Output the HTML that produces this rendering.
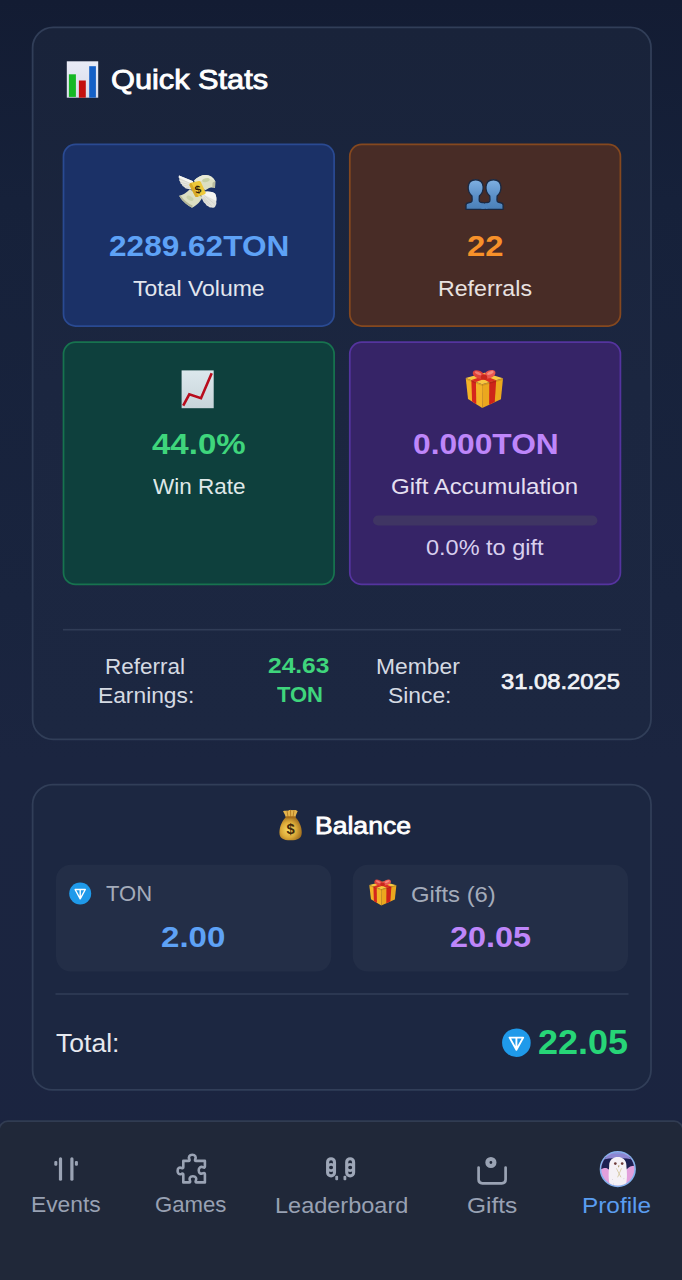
<!DOCTYPE html>
<html>
<head>
<meta charset="utf-8">
<style>
*{box-sizing:border-box;margin:0;padding:0}
html,body{width:682px;height:1280px;overflow:hidden}
body{font-family:"Liberation Sans",sans-serif;font-size:16px;line-height:1;background:linear-gradient(180deg,#131c33 0px,#16213a 200px,#19243e 600px,#1b2540 760px,#1b2440 1280px);position:relative;color:#fff}
.abs{position:absolute}
.card{position:absolute;border:1.5px solid #2d3a53;border-radius:22px;background:#1b253d}
.stat{position:absolute;border-radius:13px;border:1.5px solid}
.l{position:absolute;white-space:nowrap;line-height:1;display:block}
.b{font-weight:700}
.sb{font-weight:400;-webkit-text-stroke:0.65px currentColor}
svg{position:absolute;overflow:visible;display:block}
</style>
</head>
<body>
<svg id="bgl" width="682" height="1280" viewBox="0 0 682 1280" style="left:0;top:0">
<defs>
<linearGradient id="gCard1" x1="0" y1="0" x2="0" y2="1"><stop offset="0" stop-color="#19233a"/><stop offset="0.5" stop-color="#1b2640"/><stop offset="1" stop-color="#1c2741"/></linearGradient>
</defs>
<!-- cards -->
<rect id="card1" x="32.6" y="27.4" width="618.4" height="712" rx="20.5" fill="url(#gCard1)" stroke="#313e58" stroke-width="1.8"/>
<rect id="card2" x="32.6" y="784.6" width="618.4" height="305.3" rx="20" fill="#1c2741" stroke="#313e58" stroke-width="1.8"/>
<!-- stat boxes -->
<rect id="s1" x="63.5" y="144.4" width="270.6" height="181.6" rx="12" fill="#1b3167" stroke="#2a4a92" stroke-width="1.75"/>
<rect id="s2" x="349.8" y="144.4" width="270.6" height="181.6" rx="12" fill="#482c26" stroke="#85481f" stroke-width="1.75"/>
<rect id="s3" x="63.5" y="342.1" width="270.6" height="242.3" rx="12" fill="#0e403d" stroke="#17734f" stroke-width="1.75"/>
<rect id="s4" x="349.8" y="342.1" width="270.6" height="242.3" rx="12" fill="#362467" stroke="#55349f" stroke-width="1.75"/>
<!-- progress bar -->
<rect id="pbar" x="373" y="515.4" width="224.4" height="10.2" rx="5.1" fill="#3f3563"/>
<!-- dividers -->
<rect id="d1" x="63" y="628.9" width="558" height="1.6" fill="#303c56"/>
<rect id="d2" x="55.5" y="993.2" width="573" height="1.6" fill="#303c56"/>
<!-- balance sub boxes -->
<rect id="b1" x="56" y="864.7" width="275.2" height="106.9" rx="15" fill="#232e47"/>
<rect id="b2" x="352.8" y="864.7" width="275.2" height="106.9" rx="15" fill="#232e47"/>
<!-- nav -->
<rect id="nav" x="-1" y="1121.2" width="684" height="180" rx="9" fill="#202839" stroke="#313c52" stroke-width="1.7"/>
</svg>
<div class="l sb" id="qs" style="-webkit-text-stroke-width:0.90px;left:110.92px;top:65.62px;font-size:28px;transform-origin:0 0;transform:scaleX(1.0973);color:#ffffff">Quick Stats</div>
<div class="l b" id="v1" style="left:108.96px;top:230.90px;font-size:30.2px;transform-origin:0 0;transform:scaleX(1.0463);color:#5ea2f6">2289.62TON</div>
<div class="l" id="l1" style="left:133.24px;top:278.00px;font-size:22.5px;transform-origin:0 0;transform:scaleX(1.0220);color:#e2e6ee">Total Volume</div>
<div class="l b" id="v2" style="left:466.86px;top:230.90px;font-size:30.2px;transform-origin:0 0;transform:scaleX(1.0877);color:#f7912a">22</div>
<div class="l" id="l2" style="left:437.57px;top:278.00px;font-size:22.5px;transform-origin:0 0;transform:scaleX(1.0294);color:#e8e2e0">Referrals</div>
<div class="l b" id="v3" style="left:152.22px;top:428.90px;font-size:30.2px;transform-origin:0 0;transform:scaleX(1.0942);color:#3fd57c">44.0%</div>
<div class="l" id="l3" style="left:152.74px;top:476.00px;font-size:22.5px;transform-origin:0 0;transform:scaleX(0.9994);color:#dfe8e8">Win Rate</div>
<div class="l b" id="v4" style="left:413.00px;top:428.50px;font-size:30.2px;transform-origin:0 0;transform:scaleX(1.0503);color:#be86fa">0.000TON</div>
<div class="l" id="l4" style="left:391.29px;top:476.40px;font-size:22.5px;transform-origin:0 0;transform:scaleX(1.0690);color:#e4dff0">Gift Accumulation</div>
<div class="l" id="l5" style="left:426.18px;top:537.00px;font-size:22.5px;transform-origin:0 0;transform:scaleX(1.0441);color:#d8cfee">0.0% to gift</div>
<div class="l" id="r1a" style="left:105.31px;top:656.14px;font-size:22px;transform-origin:0 0;transform:scaleX(1.0218);color:#d5dae3">Referral</div>
<div class="l" id="r1b" style="left:97.69px;top:684.92px;font-size:22px;transform-origin:0 0;transform:scaleX(1.0357);color:#d5dae3">Earnings:</div>
<div class="l b" id="r2a" style="left:268.14px;top:655.16px;font-size:22px;transform-origin:0 0;transform:scaleX(1.1158);color:#3fd57c">24.63</div>
<div class="l b" id="r2b" style="left:276.93px;top:683.93px;font-size:22px;transform-origin:0 0;transform:scaleX(0.9989);color:#3fd57c">TON</div>
<div class="l" id="r3a" style="left:375.95px;top:655.83px;font-size:22px;transform-origin:0 0;transform:scaleX(1.0378);color:#d5dae3">Member</div>
<div class="l" id="r3b" style="left:388.20px;top:685.02px;font-size:22px;transform-origin:0 0;transform:scaleX(1.0373);color:#d5dae3">Since:</div>
<div class="l sb" id="r4" style="-webkit-text-stroke-width:0.72px;left:500.75px;top:670.57px;font-size:22.5px;transform-origin:0 0;transform:scaleX(1.0563);color:#f1f3f7">31.08.2025</div>
<div class="l sb" id="bal" style="-webkit-text-stroke-width:0.79px;left:314.75px;top:813.64px;font-size:24.6px;transform-origin:0 0;transform:scaleX(1.0795);color:#ffffff">Balance</div>
<div class="l" id="ton" style="left:106.40px;top:882.50px;font-size:22.4px;transform-origin:0 0;transform:scaleX(0.9827);color:#a3abba">TON</div>
<div class="l b" id="bv1" style="left:161.23px;top:922.20px;font-size:30.2px;transform-origin:0 0;transform:scaleX(1.0959);color:#5ea2f6">2.00</div>
<div class="l" id="gf" style="left:411.21px;top:883.50px;font-size:22.4px;transform-origin:0 0;transform:scaleX(1.0649);color:#a3abba">Gifts (6)</div>
<div class="l b" id="bv2" style="left:449.82px;top:921.90px;font-size:30.2px;transform-origin:0 0;transform:scaleX(1.0738);color:#be86fa">20.05</div>
<div class="l" id="tot" style="left:56.12px;top:1030.10px;font-size:26px;transform-origin:0 0;transform:scaleX(1.0212);color:#e6e9ef">Total:</div>
<div class="l b" id="totv" style="left:538.00px;top:1024.80px;font-size:34.7px;transform-origin:0 0;transform:scaleX(1.0373);color:#27d577">22.05</div>
<div class="l" id="n1" style="left:30.69px;top:1194.10px;font-size:22.5px;transform-origin:0 0;transform:scaleX(1.0137);color:#98a1b3">Events</div>
<div class="l" id="n2" style="left:154.88px;top:1194.10px;font-size:22.5px;transform-origin:0 0;transform:scaleX(0.9839);color:#98a1b3">Games</div>
<div class="l" id="n3" style="left:274.76px;top:1195.10px;font-size:22.5px;transform-origin:0 0;transform:scaleX(1.0447);color:#98a1b3">Leaderboard</div>
<div class="l" id="n4" style="left:467.11px;top:1195.10px;font-size:22.5px;transform-origin:0 0;transform:scaleX(1.0873);color:#98a1b3">Gifts</div>
<div class="l" id="n5" style="left:582.03px;top:1195.10px;font-size:22.5px;transform-origin:0 0;transform:scaleX(1.0830);color:#5a9df0">Profile</div>
<svg id="ico" width="682" height="1280" viewBox="0 0 682 1280" style="left:0;top:0">
<defs>
<linearGradient id="gPanel" x1="0" y1="0" x2="0" y2="1"><stop offset="0" stop-color="#e9ebf6"/><stop offset="1" stop-color="#d9dcea"/></linearGradient>
<linearGradient id="gPanel2" x1="0" y1="0" x2="0" y2="1"><stop offset="0" stop-color="#dbe8ec"/><stop offset="1" stop-color="#c9d4da"/></linearGradient>
<linearGradient id="gBust" x1="0" y1="0" x2="0" y2="1"><stop offset="0" stop-color="#7fb0e2"/><stop offset="0.55" stop-color="#5b90c8"/><stop offset="1" stop-color="#4a80b8"/></linearGradient>
<radialGradient id="gBag" cx="0.42" cy="0.55" r="0.62"><stop offset="0" stop-color="#f7dc68"/><stop offset="0.55" stop-color="#dcaa38"/><stop offset="1" stop-color="#9a681c"/></radialGradient>
<clipPath id="avz"><circle cx="350" cy="330" r="188"/></clipPath>
</defs>
<!-- bar chart emoji -->
<g id="i_bar">
<rect x="66.8" y="61.3" width="31.4" height="36.4" fill="url(#gPanel)"/>
<rect x="68.9" y="74.3" width="7" height="22.6" fill="#16b824"/>
<rect x="78.9" y="80.5" width="6.9" height="17.2" fill="#c4100e"/>
<rect x="89.2" y="66.2" width="6.7" height="31.5" fill="#1560c6"/>
</g>
<!-- chart increasing emoji -->
<g id="i_inc">
<rect x="181.6" y="370.4" width="32.1" height="37.8" fill="url(#gPanel2)"/>
<polyline points="183.2,405.6 189.3,394.3 201,398.2 211.7,373.2" fill="none" stroke="#b80c1c" stroke-width="2.6" stroke-linejoin="miter" stroke-linecap="butt"/>
</g>
<!-- TON small -->
<g id="i_ton1">
<circle cx="80.2" cy="893.5" r="11" fill="#1f9aea"/>
<path d="M75.1 889.5 H85.3 L80.2 898.8 Z M80.2 889.5 V898" fill="none" stroke="#ffffff" stroke-width="1.4" stroke-linejoin="round"/>
</g>
<!-- TON big -->
<g id="i_ton2">
<circle cx="516.4" cy="1042.7" r="14.3" fill="#1f9aea"/>
<path d="M509.6 1037.6 H523.2 L516.4 1049.8 Z M516.4 1037.6 V1048.8" fill="none" stroke="#ffffff" stroke-width="1.9" stroke-linejoin="round"/>
</g>
<!-- busts in silhouette (zoom space of region 455,165) -->
<g id="i_busts" transform="translate(455 165) scale(0.08798)">
<g stroke="#1a2942" stroke-width="15" stroke-linejoin="round" fill="url(#gBust)">
<path d="M327 505 V456 Q327 434 355 429 L385 421 Q399 414 397 396 L395 352 C362 322 349 282 352 246 C357 196 392 168 437 168 C482 168 517 196 522 246 C525 282 512 322 479 352 L477 396 Q475 414 489 421 L519 429 Q547 434 547 456 V505 Z"/>
<path d="M125 505 V456 Q125 434 153 429 L183 421 Q197 414 195 396 L193 352 C160 322 147 282 150 246 C155 196 190 168 235 168 C280 168 315 196 320 246 C323 282 310 322 277 352 L275 396 Q273 414 287 421 L317 429 Q345 434 345 456 V505 Z"/>
</g>
<path d="M300 440 L345 432 L370 440 V498 H300 Z" fill="#4e84bd"/>
<path d="M328 424 L338 437 L348 424" fill="none" stroke="#1a2942" stroke-width="10"/>
</g>
<!-- gift big : zoom space of region 455,362 -->
<g id="i_gift1" transform="translate(455 362) scale(0.08798)">
<polygon points="122,182 308,252 310,522 148,420" fill="#f3b327"/>
<polygon points="308,252 546,186 522,424 310,522" fill="#eba81e"/>
<polygon points="122,182 338,122 546,186 308,252" fill="#f8c840"/>
<polygon points="186,206 238,226 242,480 194,450" fill="#d5271c"/>
<polygon points="390,229 468,208 452,456 388,486" fill="#cd2319"/>
<polygon points="238,150 290,136 468,208 390,229" fill="#da2d21"/>
<polygon points="388,138 440,154 238,226 186,206" fill="#da2d21"/>
<ellipse cx="268" cy="142" rx="70" ry="43" transform="rotate(24 268 142)" fill="#e0423a"/>
<ellipse cx="394" cy="140" rx="70" ry="43" transform="rotate(-24 394 140)" fill="#ea564e"/>
<ellipse cx="262" cy="128" rx="40" ry="16" transform="rotate(24 262 128)" fill="#f07a70"/>
<ellipse cx="402" cy="124" rx="40" ry="16" transform="rotate(-24 402 124)" fill="#f58a80"/>
<ellipse cx="330" cy="172" rx="36" ry="30" fill="#c9261d"/>
<polygon points="122,182 308,252 546,186 545,204 308,272 124,202" fill="#000" opacity="0.10"/>
</g>
<!-- gift small : big gift bbox (465.6..503.2, 369.5..408.2) -> (369.2..396.5, 879.2..905.6) -->
<g id="i_gift2" transform="translate(369.2 879.2) scale(0.726 0.682) translate(-465.6 -369.5) translate(455 362) scale(0.08798)">
<polygon points="122,182 308,252 310,522 148,420" fill="#f3b327"/>
<polygon points="308,252 546,186 522,424 310,522" fill="#eba81e"/>
<polygon points="122,182 338,122 546,186 308,252" fill="#f8c840"/>
<polygon points="186,206 238,226 242,480 194,450" fill="#d5271c"/>
<polygon points="390,229 468,208 452,456 388,486" fill="#cd2319"/>
<polygon points="238,150 290,136 468,208 390,229" fill="#da2d21"/>
<polygon points="388,138 440,154 238,226 186,206" fill="#da2d21"/>
<ellipse cx="268" cy="142" rx="70" ry="43" transform="rotate(24 268 142)" fill="#e0423a"/>
<ellipse cx="394" cy="140" rx="70" ry="43" transform="rotate(-24 394 140)" fill="#ea564e"/>
<ellipse cx="262" cy="128" rx="40" ry="16" transform="rotate(24 262 128)" fill="#f07a70"/>
<ellipse cx="402" cy="124" rx="40" ry="16" transform="rotate(-24 402 124)" fill="#f58a80"/>
<ellipse cx="330" cy="172" rx="36" ry="30" fill="#c9261d"/>
<polygon points="122,182 308,252 546,186 545,204 308,272 124,202" fill="#000" opacity="0.10"/>
</g>
<!-- money with wings (drawn in 13.64x zoom space of region 173,168) -->
<g id="i_wings" transform="translate(173 168) scale(0.07331)">
<!-- left wing -->
<path d="M275 180 L82 103 Q66 128 88 148 Q76 172 100 190 Q94 214 122 226 Q122 250 154 258 Q162 280 192 284 L255 292 Z" fill="#e6e6df"/>
<path d="M275 180 L82 103 Q76 118 86 130 L250 215 Z" fill="#f7f7f3"/>
<path d="M250 215 L92 152 M252 235 L106 196 M252 255 L130 232 M254 272 L160 262" stroke="#c9c9c0" stroke-width="7" fill="none"/>
<!-- right wing -->
<path d="M392 332 C450 310 540 316 575 350 C592 380 595 420 590 450 Q600 500 576 526 Q560 550 530 538 Q500 546 480 521 Q455 516 442 486 Q415 470 405 440 L384 382 Z" fill="#e3e3dc"/>
<path d="M392 332 C450 310 540 316 575 350 C592 380 595 420 590 450 L420 360 Z" fill="#f5f5f1"/>
<path d="M430 380 L578 500 M420 395 L530 520 M410 405 L485 505 M402 415 L448 470" stroke="#c9c9c0" stroke-width="7" fill="none"/>
<!-- bills upper right -->
<path d="M288 172 C330 120 400 92 452 95 C505 98 552 130 577 182 L573 272 C540 263 500 268 470 286 L440 302 L300 205 Z" fill="#dcdfc2"/>
<path d="M288 172 C330 120 400 92 452 95 C505 98 552 130 577 182 C540 150 470 140 420 160 C380 176 350 200 330 226 Z" fill="#e8ead6"/>
<path d="M577 182 L573 272 C560 268 548 266 536 266 L540 200 C552 190 566 184 577 182 Z" fill="#b9bca0"/>
<ellipse cx="450" cy="165" rx="52" ry="26" transform="rotate(-12 450 165)" fill="#c6d0a4"/>
<!-- bills lower left -->
<path d="M84 380 C130 370 180 340 230 290 L400 400 C380 450 330 510 260 543 C200 510 130 452 100 406 Z" fill="#dcdfc2"/>
<path d="M84 380 L100 406 C130 452 200 510 260 543 L268 512 C210 485 150 440 112 384 Z" fill="#b4b798"/>
<ellipse cx="232" cy="412" rx="52" ry="28" transform="rotate(30 232 412)" fill="#c9d1a8"/>
<!-- band -->
<path d="M246 200 L352 178 Q372 176 380 192 L444 330 Q450 350 432 358 L330 396 Q312 400 302 384 L226 240 Q220 210 246 200 Z" fill="#edc83a"/>
<path d="M246 200 Q220 210 226 240 L302 384 Q312 400 330 396 L346 390 L258 218 Z" fill="#d6a928"/>
<text x="338" y="345" font-family="Liberation Sans" font-weight="700" font-size="150" fill="#2e1c06" text-anchor="middle" transform="rotate(-16 338 290)">$</text>
</g>
<!-- money bag : zoom space of region 265,800 -->
<g id="i_bag" transform="translate(265 800) scale(0.08798)">
<path d="M205 128 C228 112 250 130 268 118 C284 108 304 120 320 114 C338 110 358 114 372 128 C360 152 348 176 344 200 H238 C232 176 220 152 205 128 Z" fill="#e4b44c"/>
<path d="M250 120 L262 196 M290 112 L292 196 M330 116 L318 196" stroke="#b07a24" stroke-width="10" fill="none"/>
<path d="M238 196 H344 C384 232 418 296 418 372 C418 432 376 458 290 458 C204 458 164 432 164 372 C164 296 198 232 238 196 Z" fill="url(#gBag)"/>
<rect x="234" y="186" width="114" height="22" rx="11" fill="#a46c1a"/>
<text x="290" y="392" font-family="Liberation Sans" font-weight="700" font-size="168" fill="#40280a" text-anchor="middle">$</text>
</g>
<!-- NAV: events -->
<g id="i_events" fill="#9aa3b4">
<rect x="58.9" y="1157.2" width="3.2" height="23.6" rx="1.6"/>
<rect x="70.3" y="1157.2" width="3.2" height="23.6" rx="1.6"/>
<rect x="54.3" y="1160.9" width="3" height="4.8" rx="1.2"/>
<rect x="74.9" y="1160.9" width="3" height="4.8" rx="1.2"/>
</g>
<!-- NAV: games puzzle -->
<g id="i_games" fill="none" stroke="#9aa3b4" stroke-width="2.6" stroke-linejoin="round" stroke-linecap="round">
<path d="M183.3 1160.9 H188.6 C189.6 1160.9 189.8 1160.2 189.4 1159.3 C188.2 1156.8 189.4 1154.7 192.3 1154.7 C195.2 1154.7 196.4 1156.8 195.2 1159.3 C194.8 1160.2 195 1160.9 196 1160.9 H204.9 V1166.6 C204.9 1167.6 204.2 1167.8 203.3 1167.4 C200.8 1166.2 198.7 1167.4 198.7 1170.3 C198.7 1173.2 200.8 1174.4 203.3 1173.2 C204.2 1172.8 204.9 1173 204.9 1174 V1182.4 H196.6 C195.6 1182.4 195.4 1181.7 195.8 1180.8 C197 1178.3 195.8 1176.2 192.9 1176.2 C190 1176.2 188.8 1178.3 190 1180.8 C190.4 1181.7 190.2 1182.4 189.2 1182.4 H183.3 V1174.6 C183.3 1173.6 182.6 1173.4 181.7 1173.8 C179.2 1175 177.6 1173.4 177.6 1170.9 C177.6 1168.4 179.2 1166.8 181.7 1168 C182.6 1168.4 183.3 1168.2 183.3 1167.2 Z"/>
</g>
<!-- NAV: leaderboard -->
<g id="i_lead" fill="none" stroke="#9ea7b8" stroke-width="3.1">
<rect x="327.6" y="1158.7" width="6.9" height="17.2" rx="3.45"/>
<path d="M327.8 1166.2 Q331.05 1162.6 334.3 1166.2 M327.8 1168.8 Q331.05 1172.4 334.3 1168.8" stroke-width="2.7"/>
<rect x="346.7" y="1158.7" width="6.9" height="17.2" rx="3.45"/>
<path d="M346.9 1166.2 Q350.15 1162.6 353.4 1166.2 M346.9 1168.8 Q350.15 1172.4 353.4 1168.8" stroke-width="2.7"/>
<rect x="335.3" y="1175.8" width="2.8" height="4.4" rx="1" fill="#9aa3b4" stroke="none"/>
<rect x="343.5" y="1175.8" width="2.8" height="4.4" rx="1" fill="#9aa3b4" stroke="none"/>
</g>
<!-- NAV: gifts -->
<g id="i_gifts">
<path d="M478.6 1167.6 V1179.6 Q478.6 1183.4 482.4 1183.4 H501.8 Q505.6 1183.4 505.6 1179.6 V1167.6" fill="none" stroke="#9aa3b4" stroke-width="2.7" stroke-linecap="round"/>
<circle cx="490.9" cy="1162.5" r="3.5" fill="none" stroke="#9aa3b4" stroke-width="4.2"/>
</g>
<!-- NAV: profile avatar (zoom space of region 587,1140) -->
<g id="i_avatar" transform="translate(587 1140) scale(0.08798)">
<circle cx="350" cy="330" r="206" fill="#84b2ee"/>
<g clip-path="url(#avz)">
<rect x="140" y="120" width="420" height="420" fill="#e2a0dc"/>
<path d="M140 190 H560 V296 C520 288 482 300 452 332 L248 336 C222 304 182 318 140 344 Z" fill="#1c2052"/>
<path d="M140 120 H560 V238 C500 216 430 206 350 206 C270 206 200 216 140 242 Z" fill="#8c86d2"/>
<path d="M140 120 H560 V170 C480 150 220 150 140 175 Z" fill="#7f9ade"/>
<path d="M252 300 C248 226 298 194 350 194 C402 194 452 226 448 300 C458 380 458 470 432 545 H268 C242 470 242 380 252 300 Z" fill="#f5f1f6"/>
<circle cx="322" cy="268" r="15" fill="#6e3c3a"/>
<circle cx="400" cy="268" r="15" fill="#6e3c3a"/>
<polygon points="350,290 370,290 360,314" fill="#a8925e"/>
<path d="M334 322 L386 424 M392 322 L348 424" stroke="#d2c69c" stroke-width="9" fill="none"/>
<circle cx="290" cy="450" r="5" fill="#b8b0c0"/><circle cx="420" cy="440" r="5" fill="#b8b0c0"/><circle cx="300" cy="500" r="5" fill="#b8b0c0"/><circle cx="410" cy="505" r="5" fill="#b8b0c0"/>
</g>
</g>
</svg>
</body>
</html>
